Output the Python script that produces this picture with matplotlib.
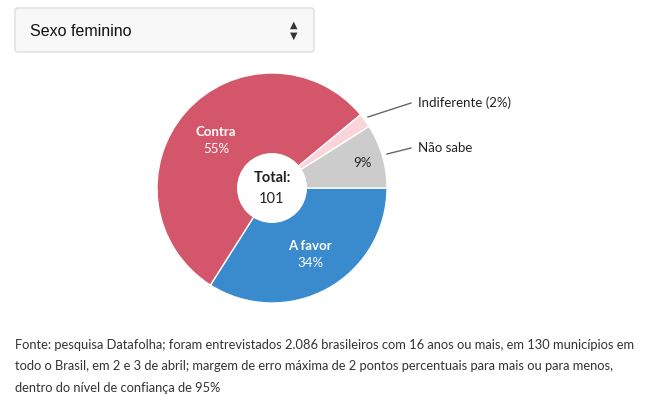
import matplotlib
matplotlib.use("Agg")
import matplotlib.pyplot as plt
from matplotlib.patches import FancyBboxPatch, Circle

W, H = 662, 395

# Dados (pesquisa Datafolha, sexo feminino)
labels = ["A favor", "Contra", "Indiferente", "Não sabe"]
values = [34, 55, 2, 9]
colors = ["#3a8bcd", "#d4566b", "#fbd3da", "#cccccc"]
total = 101
dropdown_label = "Sexo feminino"
source_lines = [
    "Fonte: pesquisa Datafolha; foram entrevistados 2.086 brasileiros com 16 anos ou mais, em 130 municípios em",
    "todo o Brasil, em 2 e 3 de abril; margem de erro máxima de 2 pontos percentuais para mais ou para menos,",
    "dentro do nível de confiança de 95%",
]

FONT = "Lato"


def y(py):
    # pixel row (from top) -> data y
    return H - py


def main():
    fig = plt.figure(figsize=(W / 100, H / 100), dpi=100)
    ax = fig.add_axes([0, 0, 1, 1])

    # Dropdown
    box = FancyBboxPatch((15, y(52)), 299, 44, boxstyle="round,pad=0,rounding_size=3",
                         facecolor="#f8f8f8", edgecolor="#dddddd", lw=1)
    ax.add_patch(box)
    ax.text(30, y(31), dropdown_label, fontsize=11.5, family="Liberation Sans",
            color="#111111", va="center", ha="left")
    ax.text(294, y(25), "▲", fontsize=7, color="#333333", ha="center", va="center")
    ax.text(294, y(36), "▼", fontsize=7, color="#333333", ha="center", va="center")

    # Pie
    cx, cy, r = 272, y(188), 115
    ax.pie(values, colors=colors, center=(cx, cy), radius=r, startangle=0,
           counterclock=False, frame=True,
           wedgeprops=dict(edgecolor="white", linewidth=1))
    ax.set_xlim(0, W)
    ax.set_ylim(0, H)
    ax.set_aspect("equal")
    ax.axis("off")
    ax.add_patch(Circle((cx, cy), 35, facecolor="white", edgecolor="none", zorder=5))

    ax.text(cx, y(178), "Total:", fontsize=10.5, weight="bold", family=FONT,
            color="#222222", ha="center", va="center", zorder=6)
    ax.text(cx, y(199), str(total), fontsize=10.5, family=FONT,
            color="#222222", ha="center", va="center", zorder=6)

    # Labels inside
    ax.text(216, y(132), labels[1], fontsize=9.5, weight="bold", family=FONT,
            color="white", ha="center", va="center")
    ax.text(216, y(149), f"{values[1]}%", fontsize=9.5, family=FONT,
            color="white", ha="center", va="center")
    ax.text(310, y(246), labels[0], fontsize=9.5, weight="bold", family=FONT,
            color="white", ha="center", va="center")
    ax.text(310, y(263), f"{values[0]}%", fontsize=9.5, family=FONT,
            color="white", ha="center", va="center")
    ax.text(362, y(163), f"{values[3]}%", fontsize=9.5, family=FONT,
            color="#222222", ha="center", va="center")

    # Outside labels with leader lines
    ax.plot([368, 411], [y(117), y(103)], color="#666666", lw=1)
    ax.text(418, y(103), f"{labels[2]} ({values[2]}%)", fontsize=9.5, family=FONT,
            color="#222222", ha="left", va="center")
    ax.plot([387, 411], [y(154), y(148)], color="#666666", lw=1)
    ax.text(418, y(148), labels[3], fontsize=9.5, family=FONT,
            color="#222222", ha="left", va="center")

    # Source
    for i, line in enumerate(source_lines):
        ax.text(15, y(345 + 21.5 * i), line, fontsize=9.3, family=FONT, color="#333333",
                ha="left", va="center")

    fig.savefig("out.png", dpi=100)


if __name__ == "__main__":
    main()
